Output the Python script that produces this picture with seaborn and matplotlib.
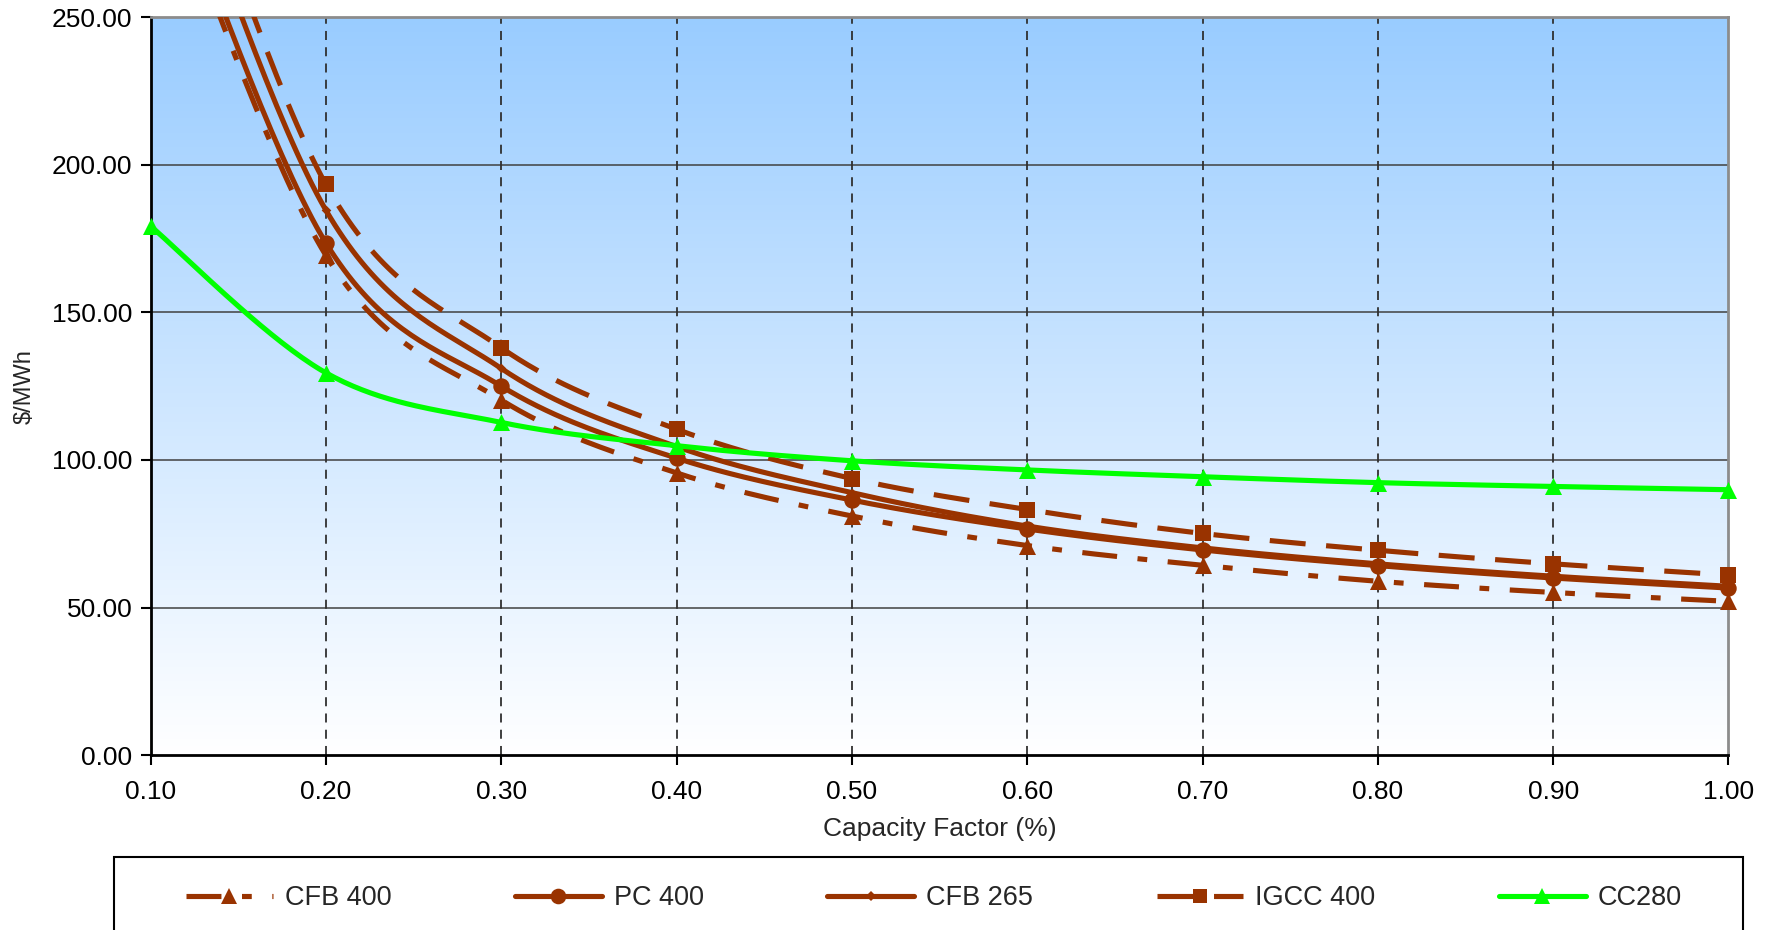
import numpy as np
import matplotlib
matplotlib.use("Agg")
import matplotlib.pyplot as plt
import seaborn as sns
from matplotlib.lines import Line2D
from matplotlib.patches import Rectangle
from matplotlib.colors import LinearSegmentedColormap
from matplotlib.ticker import FormatStrFormatter

# ---- data ----
capacity_factor = [0.1, 0.2, 0.3, 0.4, 0.5, 0.6, 0.7, 0.8, 0.9, 1.0]
cfb_400 = [312.0, 169.3, 120.3, 95.6, 81.0, 71.0, 64.3, 58.9, 55.1, 52.1]
pc_400 = [318.0, 173.5, 125.0, 100.6, 86.4, 76.6, 69.5, 64.2, 60.0, 56.6]
cfb_265 = [335.0, 184.6, 131.0, 104.5, 88.9, 77.6, 70.2, 64.8, 60.6, 57.2]
igcc_400 = [350.0, 193.3, 138.0, 110.4, 93.7, 83.2, 75.1, 69.4, 64.8, 61.0]
cc_280 = [179.2, 129.5, 112.7, 104.8, 99.7, 96.6, 94.3, 92.3, 91.0, 89.9]
series_names = ["CFB 400", "PC 400", "CFB 265", "IGCC 400", "CC280"]
x_ticks = [0.1, 0.2, 0.3, 0.4, 0.5, 0.6, 0.7, 0.8, 0.9, 1.0]
y_ticks = [0, 50, 100, 150, 200, 250]

BROWN = "#993300"
GREEN = "#00FF00"

sns.set_theme(style="white")
plt.rcParams["font.family"] = ["Liberation Sans", "DejaVu Sans"]


def smooth(x, y, n=40):
    """Excel-style smoothed line (Catmull-Rom Bezier) for rendering only."""
    P = np.column_stack([x, y]).astype(float)
    P = np.vstack([P[0], P, P[-1]])
    t = np.linspace(0, 1, n)[:, None]
    out = []
    for i in range(1, len(P) - 2):
        p0, p1, p2, p3 = P[i - 1], P[i], P[i + 1], P[i + 2]
        c1 = p1 + (p2 - p0) / 6.0
        c2 = p2 - (p3 - p1) / 6.0
        seg = ((1 - t) ** 3) * p1 + 3 * ((1 - t) ** 2) * t * c1 + 3 * (1 - t) * t ** 2 * c2 + t ** 3 * p2
        out.append(seg if i == 1 else seg[1:])
    out = np.vstack(out)
    return out[:, 0], out[:, 1]


fig = plt.figure(figsize=(17.75, 9.30), dpi=100)
ax = fig.add_axes([0.0848, 0.188, 0.889, 0.7937])

# gradient background
cmap = LinearSegmentedColormap.from_list("bg", ["#FFFFFF", "#99CCFF"])
ax.imshow(np.linspace(0, 1, 256).reshape(-1, 1), extent=[0.1, 1.0, 0, 250],
          aspect="auto", cmap=cmap, origin="lower", zorder=0, interpolation="bicubic")

LW = 3.7
styles = [
    (cfb_400, BROWN, (0, (6.8, 4.0, 1.9, 4.0)), "^", 150, LW),
    (pc_400, BROWN, "-", "o", 140, LW),
    (cfb_265, BROWN, "-", "D", 24, LW),
    (igcc_400, BROWN, (0, (7.0, 4.0)), "s", 125, LW),
    (cc_280, GREEN, "-", "^", 150, LW),
]

handles = []
for k, (vals, col, ls, mk, ms, lw) in enumerate(styles):
    xs, ys = smooth(capacity_factor, vals)
    sns.lineplot(x=xs, y=ys, sort=False, estimator=None, color=col, linewidth=lw,
                 linestyle=ls, ax=ax, zorder=3 + k)
    vis_x = [x for x, v in zip(capacity_factor, vals) if v <= 250]
    vis_y = [v for v in vals if v <= 250]
    sns.scatterplot(x=vis_x, y=vis_y, marker=mk, s=ms, color=col, edgecolor=col,
                    linewidth=0, ax=ax, zorder=3.5 + k, clip_on=False)
    handles.append(Line2D([0], [0], color=col, lw=lw, linestyle=ls, marker=mk,
                          markersize=np.sqrt(ms) * 0.95, markeredgewidth=0))

ax.set_xlim(0.1, 1.0)
ax.set_ylim(0, 250)
ax.set_xticks(x_ticks)
ax.set_yticks(y_ticks)
ax.xaxis.set_major_formatter(FormatStrFormatter("%.2f"))
ax.yaxis.set_major_formatter(FormatStrFormatter("%.2f"))
ax.tick_params(axis="both", labelsize=19, length=7, width=1.5, direction="out",
               colors="#000000", bottom=True, left=True)
ax.tick_params(axis="x", pad=11)
ax.tick_params(axis="y", pad=6)

# grid lines
for yv in y_ticks[1:-1]:
    ax.axhline(yv, color="#404040", lw=1.1, zorder=1)
for xv in x_ticks[1:-1]:
    ax.axvline(xv, color="#303030", lw=1.3, linestyle=(0, (5, 4)), zorder=1)

for side in ["left", "bottom"]:
    ax.spines[side].set_color("#000000")
    ax.spines[side].set_linewidth(2)
for side in ["top", "right"]:
    ax.spines[side].set_color("#8C8C8C")
    ax.spines[side].set_linewidth(2)
    ax.spines[side].set_visible(True)

ax.set_xlabel("Capacity Factor (%)", fontsize=19, labelpad=9)
ax.set_ylabel("\\$/MWh", fontsize=17, labelpad=12)

# legend frame (extends below the figure edge, as in the reference)
frame = Rectangle((114 / 1775, -0.05), (1743 - 114) / 1775, 1 - 857 / 930 + 0.05,
                  transform=fig.transFigure, facecolor="#FFFFFF", edgecolor="#000000",
                  linewidth=1.5, zorder=0)
fig.add_artist(frame)

leg = fig.legend(handles, series_names, ncol=5, loc="center left",
                 bbox_to_anchor=(186 / 1775, 1 - 898 / 930, (1682 - 186) / 1775, 0.0),
                 mode="expand", fontsize=19.5, frameon=False,
                 handlelength=3.2, handletextpad=0.45, borderpad=0.0,
                 borderaxespad=0.0)

fig.savefig("out.png", dpi=100)
